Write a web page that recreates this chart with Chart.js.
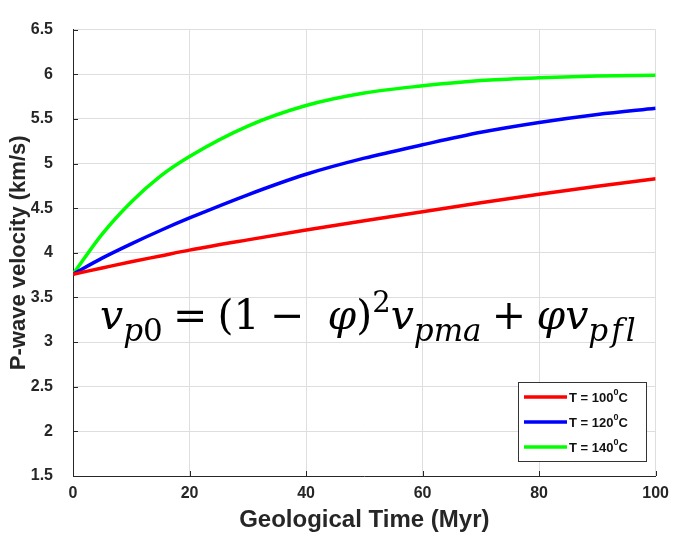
<!DOCTYPE html>
<html>
<head>
<meta charset="utf-8">
<script src="https://cdn.jsdelivr.net/npm/chart.js@4.4.0/dist/chart.umd.min.js"></script>
<style>
  html, body { margin: 0; padding: 0; background: #fff; }
  #chart { display: block; }
</style>
</head>
<body>
<canvas id="chart" width="677" height="536"></canvas>
<script>
// values (Myr, km/s)
var times = [0, 5, 10, 15, 20, 30, 40, 50, 60, 70, 80, 90, 100];
var vel100 = [3.76, 3.83, 3.90, 3.965, 4.03, 4.145, 4.255, 4.36, 4.46, 4.56, 4.655, 4.745, 4.83];
var vel120 = [3.76, 3.94, 4.10, 4.25, 4.39, 4.65, 4.88, 5.06, 5.21, 5.35, 5.46, 5.55, 5.62];
var vel140 = [3.76, 4.21, 4.57, 4.86, 5.08, 5.42, 5.65, 5.79, 5.87, 5.93, 5.96, 5.98, 5.99];
var labels = ["100", "120", "140"];
var colors = ["#ff0000", "#0000ff", "#00ff00"];

function pts(ys) {
    return times.map(function(t, i) { return {x: t, y: ys[i]}; });
}

// small inward tick marks on the left and bottom axes
var innerTicks = {
    id: 'innerTicks',
    afterDraw: function(chart) {
        var ctx = chart.ctx, a = chart.chartArea;
        var xs = chart.scales.x, ys = chart.scales.y;
        ctx.save();
        ctx.strokeStyle = '#262626';
        ctx.lineWidth = 1;
        ctx.beginPath();
        ys.ticks.forEach(function(t) {
            var y = Math.round(ys.getPixelForValue(t.value)) + 0.5;
            ctx.moveTo(a.left, y); ctx.lineTo(a.left + 5, y);
        });
        xs.ticks.forEach(function(t) {
            var x = Math.round(xs.getPixelForValue(t.value)) + 0.5;
            ctx.moveTo(x, a.bottom); ctx.lineTo(x, a.bottom - 5);
        });
        ctx.stroke();
        ctx.restore();
    }
};

// legend box in the lower right corner, MATLAB style
var legendBox = {
    id: 'legendBox',
    afterDraw: function(chart) {
        var ctx = chart.ctx;
        var x0 = 518, y0 = 382, w = 128, h = 79;
        ctx.save();
        ctx.fillStyle = '#fff';
        ctx.fillRect(x0, y0, w, h);
        ctx.strokeStyle = '#333';
        ctx.lineWidth = 1;
        ctx.strokeRect(x0 + 0.5, y0 + 0.5, w, h);
        chart.data.datasets.forEach(function(ds, i) {
            var y = y0 + 15 + i * 25;
            ctx.strokeStyle = ds.borderColor;
            ctx.lineWidth = 3.5;
            ctx.beginPath();
            ctx.moveTo(x0 + 6, y);
            ctx.lineTo(x0 + 49, y);
            ctx.stroke();
            ctx.fillStyle = '#111';
            ctx.textBaseline = 'alphabetic';
            ctx.font = 'bold 13px "Liberation Sans", Arial, sans-serif';
            var tx = x0 + 51;
            var s = 'T = ' + labels[i];
            ctx.fillText(s, tx, y + 5);
            tx += ctx.measureText(s).width;
            ctx.font = 'bold 9px "Liberation Sans", Arial, sans-serif';
            ctx.fillText('0', tx, y - 2);
            tx += ctx.measureText('0').width;
            ctx.font = 'bold 13px "Liberation Sans", Arial, sans-serif';
            ctx.fillText('C', tx, y + 5);
        });
        ctx.restore();
    }
};

// v_p0 = (1 - phi)^2 v_pma + phi v_pfl
var formula = {
    id: 'formula',
    afterDraw: function(chart) {
        var ctx = chart.ctx;
        var fam = '"DejaVu Serif", "Liberation Serif", serif';
        var sp = '\u2005';
        var parts = [
            ['v', true, 1, 0], ['p', true, 0.75, 12], ['0', false, 0.75, 12],
            [sp + '=' + sp + '(1' + sp + '\u2212' + sp + ' ', false, 1, 0], ['\u03c6', true, 1, 0], [')', false, 1, 0],
            ['2', false, 0.7, -17],
            ['v', true, 1, 0], ['pma', true, 0.75, 12],
            [sp + '+' + sp, false, 1, 0], ['\u03c6', true, 1, 0], ['v', true, 1, 0], ['p\u200af\u200al', true, 0.75, 12]
        ];
        var size = 38;
        function font(p, sz) { return (p[1] ? 'italic ' : '') + Math.round(sz * p[2]) + 'px ' + fam; }
        ctx.save();
        var total = 0;
        parts.forEach(function(p) { ctx.font = font(p, size); total += ctx.measureText(p[0]).width; });
        size = size * (542 / total);
        var x = 100, base = 329;
        ctx.fillStyle = '#000';
        ctx.textBaseline = 'alphabetic';
        parts.forEach(function(p) {
            ctx.font = font(p, size);
            ctx.fillText(p[0], x, base + p[3]);
            x += ctx.measureText(p[0]).width;
        });
        ctx.restore();
    }
};

var sans = '"Liberation Sans", Arial, sans-serif';
var tickFont = {family: sans, size: 16, weight: 'bold'};
function fmt(v) { return String(+Number(v).toFixed(1)); }

new Chart(document.getElementById('chart').getContext('2d'), {
    type: 'line',
    data: {
        datasets: [0, 1, 2].map(function(i) {
            return {
                label: 'T = ' + labels[i] + '\u2070C',
                data: pts([vel100, vel120, vel140][i]),
                borderColor: colors[i],
                backgroundColor: colors[i],
                borderWidth: 3.5,
                pointRadius: 0,
                cubicInterpolationMode: 'monotone',
                fill: false
            };
        })
    },
    options: {
        responsive: false,
        animation: false,
        layout: {padding: {left: 0, right: 19, top: 14, bottom: 0}},
        plugins: {
            legend: {display: false},
            tooltip: {enabled: false}
        },
        scales: {
            x: {
                type: 'linear',
                min: 0,
                max: 100,
                ticks: {stepSize: 20, color: '#262626', font: tickFont, padding: 8, callback: fmt},
                grid: {color: '#dedede', lineWidth: 1, drawTicks: false},
                border: {color: '#262626', width: 1},
                title: {
                    display: true,
                    text: 'Geological Time (Myr)',
                    color: '#262626',
                    font: {family: sans, size: 24, weight: 'bold'},
                    padding: {top: 0, bottom: 1}
                },
                afterFit: function(s) { s.height = 60; }
            },
            y: {
                min: 1.5,
                max: 6.5,
                ticks: {stepSize: 0.5, color: '#262626', font: tickFont, padding: 20, callback: fmt},
                grid: {color: '#dedede', lineWidth: 1, drawTicks: false},
                border: {color: '#262626', width: 1},
                title: {
                    display: true,
                    text: 'P-wave velocity (km/s)',
                    color: '#262626',
                    font: {family: sans, size: 22, weight: 'bold'},
                    padding: {top: 6, bottom: 0}
                },
                afterFit: function(s) { s.width = 73; }
            }
        }
    },
    plugins: [innerTicks, formula, legendBox]
});
</script>
</body>
</html>
